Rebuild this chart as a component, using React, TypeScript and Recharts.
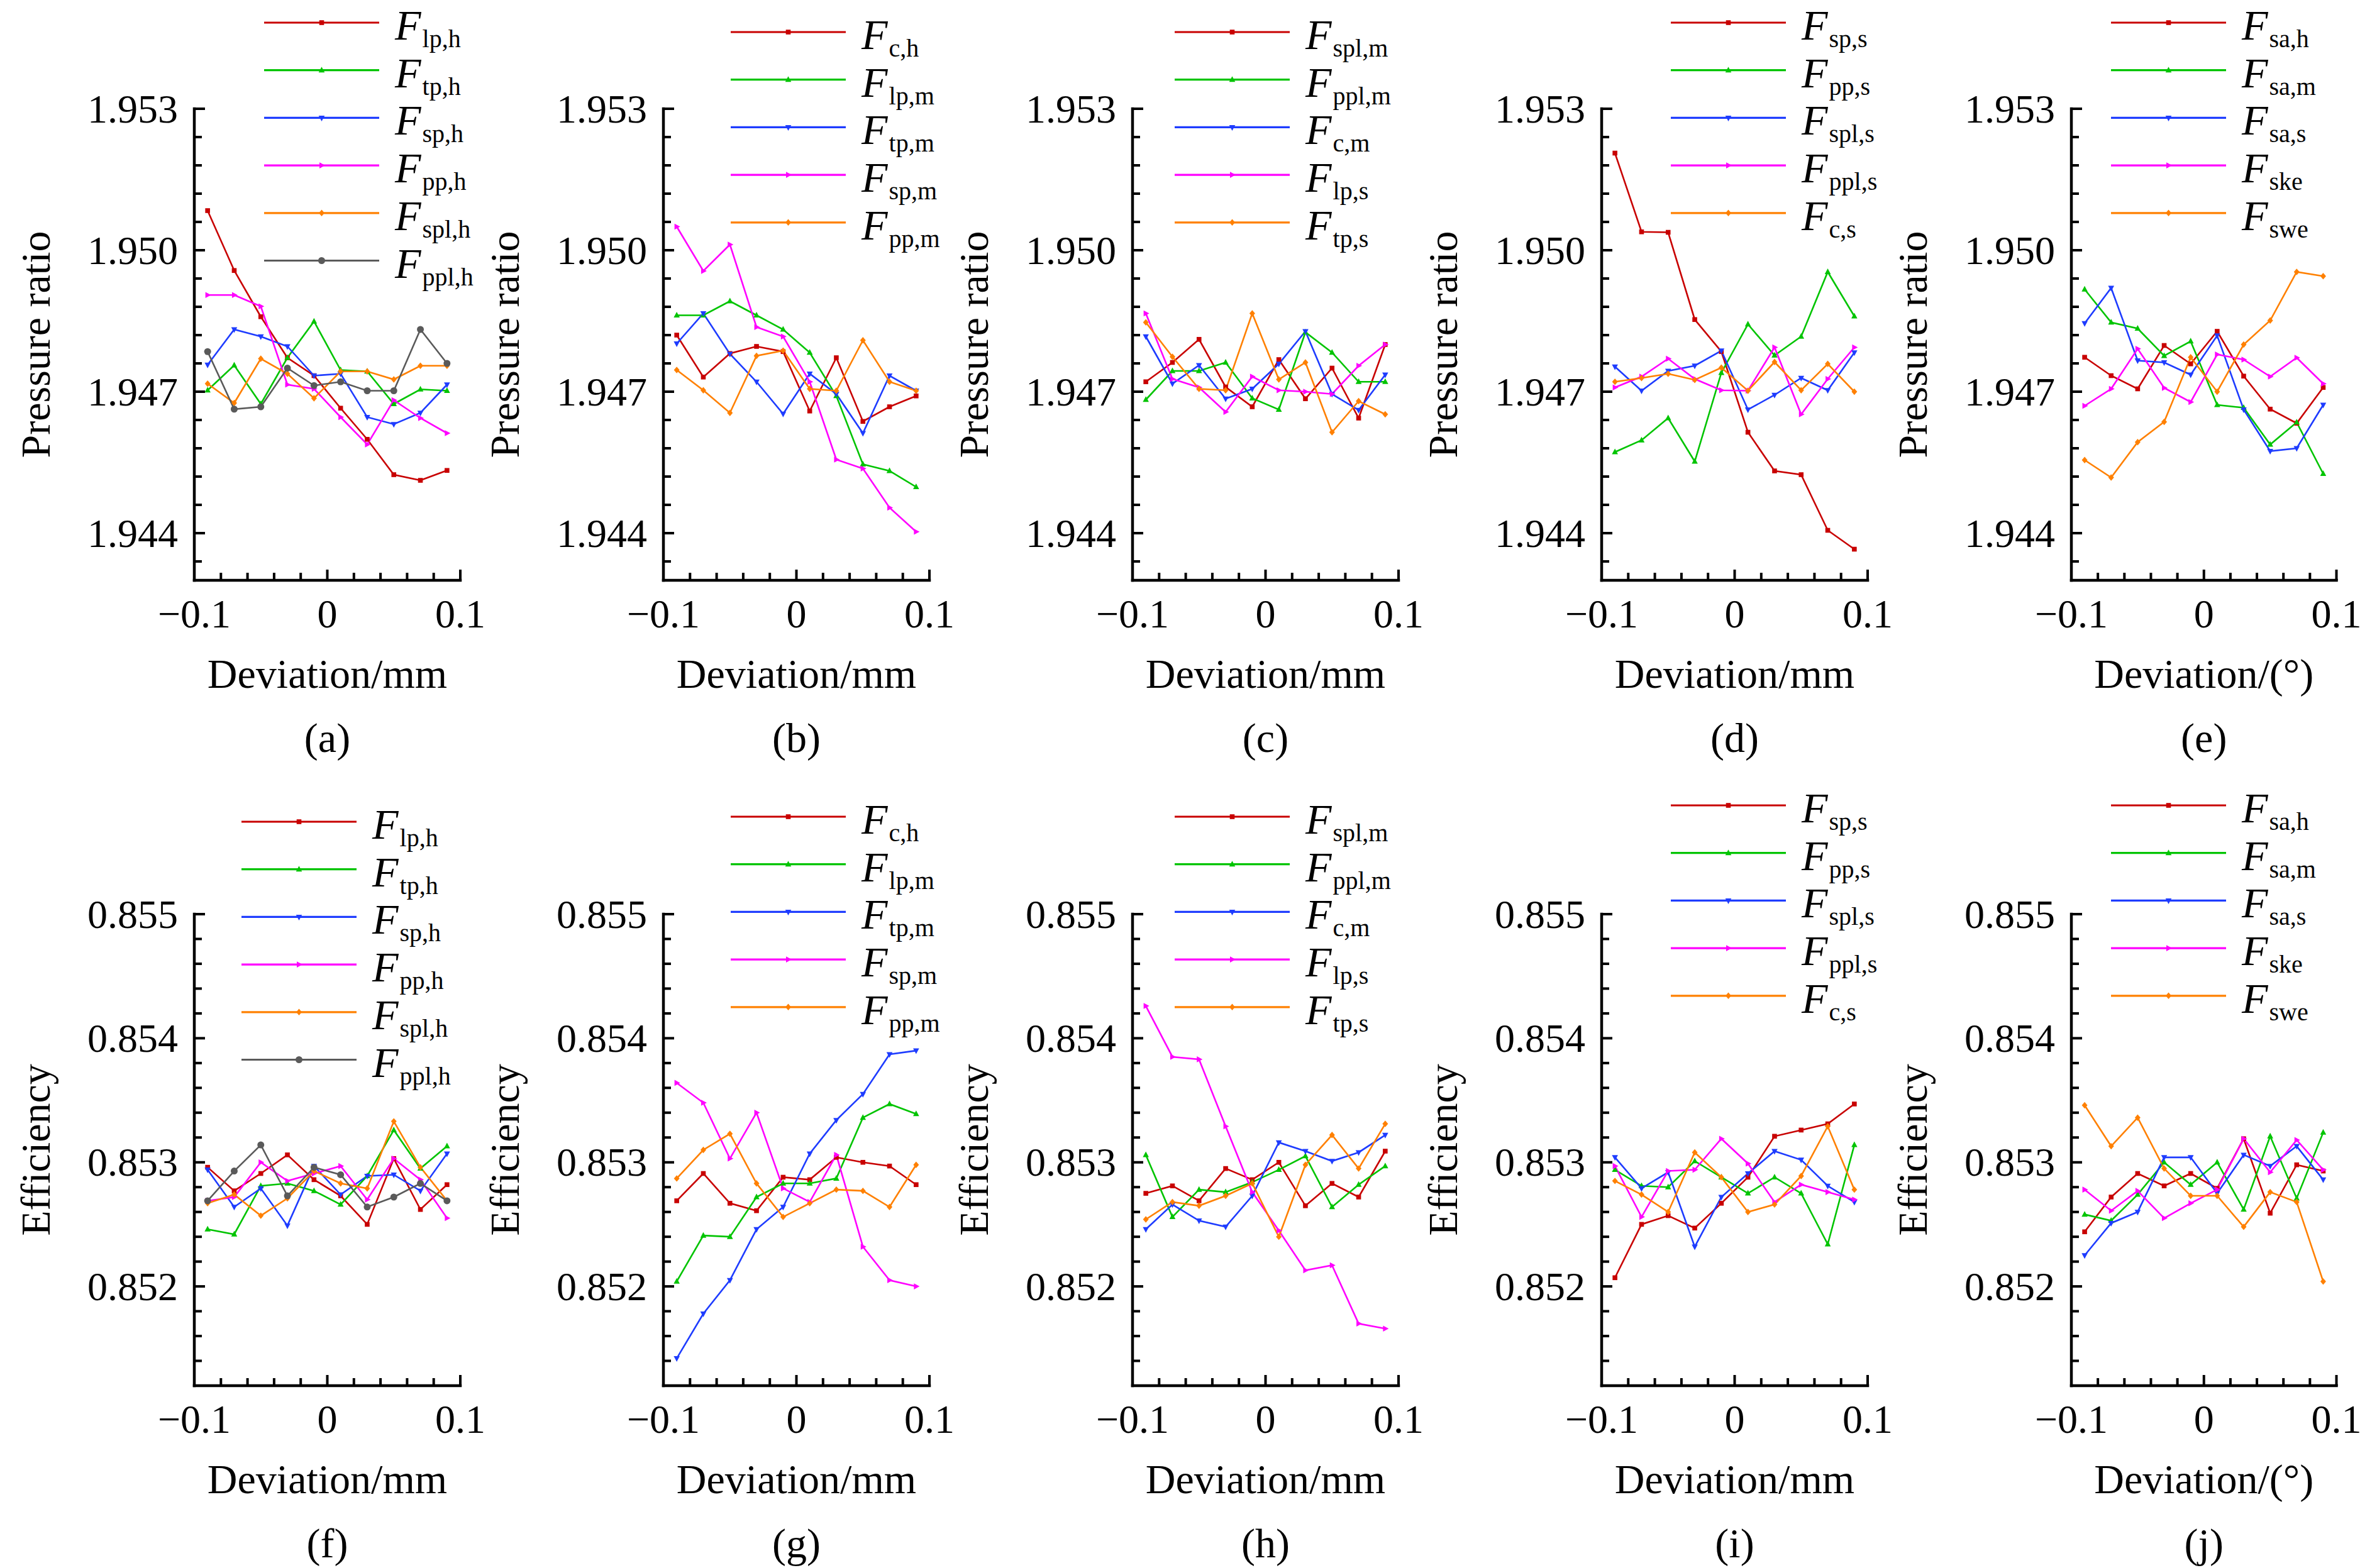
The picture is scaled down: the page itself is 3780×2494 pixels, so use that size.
import React from 'react';
import { LineChart, Line, XAxis, YAxis, Legend } from 'recharts';

const FONT = '"Liberation Serif", "Times New Roman", Times, serif';

// ---------- shared axis values ----------
const DEV = [-0.09, -0.07, -0.05, -0.03, -0.01, 0.01, 0.03, 0.05, 0.07, 0.09];
const X_TICKS = [-0.1, -0.08, -0.06, -0.04, -0.02, 0, 0.02, 0.04, 0.06, 0.08, 0.1];
const X_MAJOR = [-0.1, 0, 0.1];
const X_LABELS = ['\u22120.1', '0', '0.1'];

const PR_DOMAIN = [1.943, 1.953];
const PR_TICKS = [1.9434, 1.944, 1.9446, 1.9452, 1.9458, 1.9464, 1.947, 1.9476, 1.9482, 1.9488, 1.9494, 1.95, 1.9506, 1.9512, 1.9518, 1.9524, 1.953];
const PR_MAJOR = [1.944, 1.947, 1.95, 1.953];

const EFF_DOMAIN = [0.8512, 0.855];
const EFF_TICKS = [0.8514, 0.8516, 0.8518, 0.852, 0.8522, 0.8524, 0.8526, 0.8528, 0.853, 0.8532, 0.8534, 0.8536, 0.8538, 0.854, 0.8542, 0.8544, 0.8546, 0.8548, 0.855];
const EFF_MAJOR = [0.852, 0.853, 0.854, 0.855];

// ---------- pressure ratio series ----------
const A_LP_H = [1.95084, 1.94957, 1.94859, 1.94772, 1.94734, 1.94665, 1.94599, 1.94524, 1.94512, 1.94533];
const A_TP_H = [1.94703, 1.94756, 1.94674, 1.94772, 1.94849, 1.94746, 1.94743, 1.94674, 1.94705, 1.94702];
const A_SP_H = [1.94757, 1.94832, 1.94817, 1.94796, 1.94734, 1.94738, 1.94646, 1.94631, 1.94655, 1.94715];
const A_PP_H = [1.94905, 1.94905, 1.94881, 1.94715, 1.94706, 1.94646, 1.94588, 1.94682, 1.94644, 1.94612];
const A_SPL_H = [1.94717, 1.94676, 1.9477, 1.94738, 1.94686, 1.94743, 1.94743, 1.94726, 1.94755, 1.94755];
const A_PPL_H = [1.94785, 1.94663, 1.94668, 1.9475, 1.94713, 1.94721, 1.94702, 1.94702, 1.94832, 1.9476];

const B_C_H = [1.9482, 1.94731, 1.94781, 1.94796, 1.94785, 1.94659, 1.94772, 1.94637, 1.94668, 1.94691];
const B_LP_M = [1.94862, 1.94862, 1.94892, 1.94862, 1.94832, 1.94783, 1.94691, 1.94546, 1.94532, 1.94498];
const B_TP_M = [1.94802, 1.94866, 1.9478, 1.94721, 1.94653, 1.94738, 1.94695, 1.94612, 1.94734, 1.94702];
const B_SP_M = [1.9505, 1.94956, 1.95012, 1.94837, 1.94817, 1.94721, 1.94556, 1.94537, 1.94454, 1.94403];
const B_PP_M = [1.94746, 1.94703, 1.94655, 1.94776, 1.94787, 1.94706, 1.94702, 1.94809, 1.94721, 1.94702];

const C_SPL_M = [1.94721, 1.94762, 1.94811, 1.9471, 1.94668, 1.94768, 1.94685, 1.9475, 1.94644, 1.948];
const C_PPL_M = [1.94683, 1.94744, 1.94744, 1.94762, 1.94686, 1.94662, 1.94826, 1.94783, 1.94721, 1.94721];
const C_C_M = [1.94817, 1.94717, 1.94756, 1.94685, 1.94706, 1.94759, 1.94828, 1.94695, 1.94661, 1.94736];
const C_LP_S = [1.94866, 1.94727, 1.94709, 1.94657, 1.94732, 1.94703, 1.947, 1.94695, 1.94755, 1.948];
const C_TP_S = [1.94847, 1.94774, 1.94706, 1.94703, 1.94866, 1.94726, 1.94762, 1.94614, 1.9468, 1.94652];

const D_SP_S = [1.95206, 1.95039, 1.95038, 1.94853, 1.94785, 1.94614, 1.94532, 1.94524, 1.94406, 1.94366];
const D_PP_S = [1.94572, 1.94597, 1.94644, 1.94552, 1.9474, 1.94843, 1.94777, 1.94817, 1.94954, 1.9486];
const D_SPL_S = [1.94753, 1.94702, 1.94744, 1.94755, 1.94787, 1.94662, 1.94693, 1.94729, 1.94703, 1.94783];
const D_PPL_S = [1.94709, 1.94732, 1.9477, 1.94727, 1.94703, 1.94702, 1.94794, 1.94652, 1.94727, 1.94794];
const D_C_S = [1.94721, 1.94729, 1.94738, 1.94725, 1.94751, 1.94702, 1.94763, 1.94703, 1.94759, 1.947];

const E_SA_H = [1.94773, 1.94734, 1.94706, 1.94798, 1.94759, 1.94828, 1.94733, 1.94663, 1.94633, 1.94709];
const E_SA_M = [1.94917, 1.94847, 1.94834, 1.94776, 1.94807, 1.94672, 1.94666, 1.94588, 1.94635, 1.94526];
const E_SA_S = [1.94845, 1.9492, 1.94766, 1.94762, 1.94736, 1.94819, 1.94662, 1.94574, 1.9458, 1.94672];
const E_SKE = [1.9467, 1.94706, 1.94791, 1.94708, 1.94678, 1.94779, 1.94768, 1.94732, 1.94772, 1.94717];
const E_SWE = [1.94555, 1.94518, 1.94593, 1.94636, 1.94773, 1.947, 1.948, 1.94851, 1.94954, 1.94945];

// ---------- efficiency series ----------
const F_LP_H = [0.85296, 0.85277, 0.85291, 0.85306, 0.85286, 0.85273, 0.8525, 0.85303, 0.85262, 0.85282];
const F_TP_H = [0.85246, 0.85242, 0.85281, 0.85283, 0.85277, 0.85266, 0.85289, 0.85326, 0.85295, 0.85313];
const F_SP_H = [0.85294, 0.85264, 0.85279, 0.85249, 0.85297, 0.85274, 0.85289, 0.8529, 0.85277, 0.85307];
const F_PP_H = [0.85269, 0.85272, 0.853, 0.85285, 0.85291, 0.85297, 0.8527, 0.85303, 0.85286, 0.85255];
const F_SPL_H = [0.85267, 0.85274, 0.85257, 0.85271, 0.85293, 0.85283, 0.85279, 0.85333, 0.85296, 0.85269];
const F_PPL_H = [0.85269, 0.85293, 0.85314, 0.85273, 0.85296, 0.8529, 0.85264, 0.85272, 0.85283, 0.85269];

const G_C_H = [0.85269, 0.85291, 0.85267, 0.85261, 0.85288, 0.85286, 0.85304, 0.853, 0.85297, 0.85282];
const G_LP_M = [0.85204, 0.85241, 0.8524, 0.85272, 0.85283, 0.85283, 0.85287, 0.85336, 0.85347, 0.85339];
const G_TP_M = [0.85142, 0.85178, 0.85205, 0.85246, 0.85264, 0.85307, 0.85334, 0.85355, 0.85387, 0.8539];
const G_SP_M = [0.85364, 0.85348, 0.85303, 0.8534, 0.85279, 0.85268, 0.85306, 0.85232, 0.85205, 0.852];
const G_PP_M = [0.85287, 0.8531, 0.85323, 0.85283, 0.85256, 0.85267, 0.85278, 0.85277, 0.85264, 0.85298];

const H_SPL_M = [0.85275, 0.85281, 0.85269, 0.85295, 0.85286, 0.853, 0.85265, 0.85283, 0.85272, 0.85309];
const H_PPL_M = [0.85306, 0.85256, 0.85278, 0.85276, 0.85284, 0.85294, 0.85305, 0.85264, 0.85282, 0.85297];
const H_C_M = [0.85246, 0.85266, 0.85253, 0.85248, 0.85273, 0.85316, 0.85309, 0.85301, 0.85308, 0.85322];
const H_LP_S = [0.85426, 0.85385, 0.85383, 0.85329, 0.85276, 0.85245, 0.85213, 0.85217, 0.8517, 0.85166];
const H_TP_S = [0.85254, 0.85268, 0.85265, 0.85273, 0.85283, 0.8524, 0.85298, 0.85322, 0.85295, 0.85331];

const I_SP_S = [0.85207, 0.8525, 0.85257, 0.85247, 0.85267, 0.85288, 0.85321, 0.85326, 0.85331, 0.85347];
const I_PP_S = [0.85294, 0.85281, 0.8528, 0.85301, 0.85288, 0.85275, 0.85288, 0.85275, 0.85234, 0.85314];
const I_SPL_S = [0.85304, 0.85279, 0.85292, 0.85232, 0.85272, 0.85291, 0.85309, 0.85302, 0.85281, 0.85268];
const I_PPL_S = [0.85297, 0.85256, 0.85293, 0.85294, 0.85319, 0.85299, 0.85268, 0.85282, 0.85276, 0.8527];
const I_C_S = [0.85285, 0.85274, 0.8526, 0.85308, 0.85288, 0.8526, 0.85266, 0.85289, 0.85329, 0.85278];

const J_SA_H = [0.85244, 0.85272, 0.85291, 0.85281, 0.85291, 0.85279, 0.85319, 0.85259, 0.85298, 0.85293];
const J_SA_M = [0.85258, 0.85253, 0.85274, 0.853, 0.85282, 0.853, 0.85262, 0.85321, 0.85271, 0.85324];
const J_SA_S = [0.85225, 0.85251, 0.8526, 0.85304, 0.85304, 0.85275, 0.85306, 0.85297, 0.85313, 0.85286];
const J_SKE = [0.85278, 0.85261, 0.85277, 0.85255, 0.85267, 0.85278, 0.85319, 0.85292, 0.85318, 0.85294];
const J_SWE = [0.85346, 0.85313, 0.85336, 0.85295, 0.85273, 0.85273, 0.85248, 0.85276, 0.85268, 0.85204];

// ---------- legend names ----------
const SUBS_1 = ['lp,h', 'tp,h', 'sp,h', 'pp,h', 'spl,h', 'ppl,h'];
const SUBS_2 = ['c,h', 'lp,m', 'tp,m', 'sp,m', 'pp,m'];
const SUBS_3 = ['spl,m', 'ppl,m', 'c,m', 'lp,s', 'tp,s'];
const SUBS_4 = ['sp,s', 'pp,s', 'spl,s', 'ppl,s', 'c,s'];
const SUBS_5 = ['sa,h', 'sa,m', 'sa,s', 'ske', 'swe'];

// ---------- styling / layout ----------
const COLORS = ['#c80000', '#00c400', '#1e3cff', '#ff00ff', '#ff8000', '#5a5a5a'];
const SHAPES = ['square', 'up', 'down', 'right', 'diamond', 'circle'];
const AXIS_X = [308.5, 1054.7, 1801, 2547, 3293.5];
const PLOT_LEFT = 308;
const PLOT_H = 750;
const YW = 60;
const XH = 60;
const ROW_GAP = 75.7;
const LEG_LINE = 183;
const LEG_PAD = 22;

type PanelCfg = {
  letter: string; col: number; row: number; xTitle: string;
  series: number[][]; subs: string[]; legDx: number; legY: number;
};

const PANELS: PanelCfg[] = [
  { letter: '(a)', col: 0, row: 0, xTitle: 'Deviation/mm', series: [A_LP_H, A_TP_H, A_SP_H, A_PP_H, A_SPL_H, A_PPL_H], subs: SUBS_1, legDx: 111.5, legY: 36 },
  { letter: '(b)', col: 1, row: 0, xTitle: 'Deviation/mm', series: [B_C_H, B_LP_M, B_TP_M, B_SP_M, B_PP_M], subs: SUBS_2, legDx: 107, legY: 51 },
  { letter: '(c)', col: 2, row: 0, xTitle: 'Deviation/mm', series: [C_SPL_M, C_PPL_M, C_C_M, C_LP_S, C_TP_S], subs: SUBS_3, legDx: 67, legY: 51 },
  { letter: '(d)', col: 3, row: 0, xTitle: 'Deviation/mm', series: [D_SP_S, D_PP_S, D_SPL_S, D_PPL_S, D_C_S], subs: SUBS_4, legDx: 110, legY: 36 },
  { letter: '(e)', col: 4, row: 0, xTitle: 'Deviation/(\u00b0)', series: [E_SA_H, E_SA_M, E_SA_S, E_SKE, E_SWE], subs: SUBS_5, legDx: 63.5, legY: 36 },
  { letter: '(f)', col: 0, row: 1, xTitle: 'Deviation/mm', series: [F_LP_H, F_TP_H, F_SP_H, F_PP_H, F_SPL_H, F_PPL_H], subs: SUBS_1, legDx: 75.5, legY: 57 },
  { letter: '(g)', col: 1, row: 1, xTitle: 'Deviation/mm', series: [G_C_H, G_LP_M, G_TP_M, G_SP_M, G_PP_M], subs: SUBS_2, legDx: 107, legY: 48.5 },
  { letter: '(h)', col: 2, row: 1, xTitle: 'Deviation/mm', series: [H_SPL_M, H_PPL_M, H_C_M, H_LP_S, H_TP_S], subs: SUBS_3, legDx: 67, legY: 48.5 },
  { letter: '(i)', col: 3, row: 1, xTitle: 'Deviation/mm', series: [I_SP_S, I_PP_S, I_SPL_S, I_PPL_S, I_C_S], subs: SUBS_4, legDx: 110, legY: 30.5 },
  { letter: '(j)', col: 4, row: 1, xTitle: 'Deviation/(\u00b0)', series: [J_SA_H, J_SA_M, J_SA_S, J_SKE, J_SWE], subs: SUBS_5, legDx: 63.5, legY: 30.5 },
];

function Marker({ cx, cy, shape, color }: { cx: number; cy: number; shape: string; color: string }) {
  if (cx == null || cy == null || isNaN(cx) || isNaN(cy)) return null;
  switch (shape) {
    case 'square':
      return <rect x={cx - 3.8} y={cy - 3.8} width={7.6} height={7.6} fill={color} />;
    case 'up':
      return <polygon points={`${cx},${cy - 5.5} ${cx - 4.8},${cy + 3.5} ${cx + 4.8},${cy + 3.5}`} fill={color} />;
    case 'down':
      return <polygon points={`${cx},${cy + 5.5} ${cx - 4.8},${cy - 3.5} ${cx + 4.8},${cy - 3.5}`} fill={color} />;
    case 'right':
      return <polygon points={`${cx + 5.5},${cy} ${cx - 3.5},${cy - 4.8} ${cx - 3.5},${cy + 4.8}`} fill={color} />;
    case 'diamond':
      return <polygon points={`${cx},${cy - 5.2} ${cx + 4.5},${cy} ${cx},${cy + 5.2} ${cx - 4.5},${cy}`} fill={color} />;
    default:
      return <circle cx={cx} cy={cy} r={5.5} fill={color} />;
  }
}

function near(list: number[], v: number) {
  return list.findIndex((m) => Math.abs(m - v) < 1e-7);
}

function makeYTick(major: number[], top: number, title: string) {
  return (props: any) => {
    const { x, y, payload } = props;
    const v = payload.value;
    const isMajor = near(major, v) >= 0;
    const tx = x - 230;
    const ty = y + PLOT_H / 2;
    return (
      <g>
        <line x1={x} x2={x + (isMajor ? 17 : 12)} y1={y} y2={y} stroke="#000" strokeWidth={4} />
        {isMajor && (
          <text x={x - 26} y={y} dy="0.34em" textAnchor="end" fontSize={64} fontFamily={FONT} fill="#000">
            {v.toFixed(3)}
          </text>
        )}
        {Math.abs(v - top) < 1e-7 && (
          <text x={tx} y={ty} transform={`rotate(-90, ${tx}, ${ty})`} textAnchor="middle" fontSize={66} fontFamily={FONT} fill="#000">
            {title}
          </text>
        )}
      </g>
    );
  };
}

function makeXTick(xTitle: string, letter: string) {
  return (props: any) => {
    const { x, y, payload } = props;
    const v = payload.value;
    const mi = near(X_MAJOR, v);
    return (
      <g>
        <line x1={x} x2={x} y1={y} y2={y - (mi >= 0 ? 17 : 12)} stroke="#000" strokeWidth={4} />
        {mi >= 0 && (
          <text x={x} y={y + 75} textAnchor="middle" fontSize={64} fontFamily={FONT} fill="#000">
            {X_LABELS[mi]}
          </text>
        )}
        {mi === 1 && (
          <g>
            <text x={x} y={y + 171} textAnchor="middle" fontSize={66} fontFamily={FONT} fill="#000">{xTitle}</text>
            <text x={x} y={y + 273} textAnchor="middle" fontSize={66} fontFamily={FONT} fill="#000">{letter}</text>
          </g>
        )}
      </g>
    );
  };
}

function LegendBox({ subs }: { subs: string[] }) {
  const w = LEG_LINE + 200;
  const h = LEG_PAD + (subs.length - 1) * ROW_GAP + 50;
  return (
    <svg width={w} height={h} style={{ overflow: 'visible', display: 'block' }}>
      {subs.map((s, i) => {
        const ly = LEG_PAD + i * ROW_GAP;
        return (
          <g key={s}>
            <line x1={0} x2={LEG_LINE} y1={ly} y2={ly} stroke={COLORS[i]} strokeWidth={3.2} />
            <Marker cx={LEG_LINE / 2} cy={ly} shape={SHAPES[i]} color={COLORS[i]} />
            <text x={LEG_LINE + 25} y={ly + 27} fontFamily={FONT} fill="#000">
              <tspan fontStyle="italic" fontSize={68}>F</tspan>
              <tspan fontSize={40} dx={2} dy={12}>{s}</tspan>
            </text>
          </g>
        );
      })}
    </svg>
  );
}

function Panel({ cfg }: { cfg: PanelCfg }) {
  const isTop = cfg.row === 0;
  const chartLeft = AXIS_X[cfg.col] - PLOT_LEFT;
  const chartTop = isTop ? 0 : 1250;
  const W = cfg.col === 4 ? 794 : 800;
  const H = isTop ? 1250 : 1244;
  const plotTop = isTop ? 173 : 204;
  const plotW = cfg.col === 4 ? 421.5 : 423;
  const rows = DEV.map((x, i) => {
    const r: any = { x };
    cfg.series.forEach((s, k) => {
      r['s' + k] = s[i];
    });
    return r;
  });
  const domain = isTop ? PR_DOMAIN : EFF_DOMAIN;
  const ticks = isTop ? PR_TICKS : EFF_TICKS;
  const major = isTop ? PR_MAJOR : EFF_MAJOR;
  const yTitle = isTop ? 'Pressure ratio' : 'Efficiency';
  const axisLine = { stroke: '#000', strokeWidth: 4.5, strokeLinecap: 'square' as const };
  return (
    <div style={{ position: 'absolute', left: chartLeft, top: chartTop, width: W, height: H }}>
      <LineChart
        width={W}
        height={H}
        data={rows}
        style={{ overflow: 'visible' }}
        margin={{ top: plotTop, left: PLOT_LEFT - YW, right: W - PLOT_LEFT - plotW, bottom: H - plotTop - PLOT_H - XH }}
      >
        <XAxis
          dataKey="x"
          type="number"
          domain={[-0.1, 0.1]}
          ticks={X_TICKS}
          interval={0}
          allowDataOverflow
          tickSize={0}
          tickMargin={0}
          height={XH}
          axisLine={axisLine}
          tickLine={false}
          tick={makeXTick(cfg.xTitle, cfg.letter)}
        />
        <YAxis
          type="number"
          domain={domain}
          ticks={ticks}
          interval={0}
          allowDataOverflow
          tickSize={0}
          tickMargin={0}
          width={YW}
          axisLine={axisLine}
          tickLine={false}
          tick={makeYTick(major, domain[1], yTitle)}
        />
        <Legend
          layout="vertical"
          align="center"
          verticalAlign="middle"
          wrapperStyle={{ left: PLOT_LEFT + cfg.legDx, top: cfg.legY - LEG_PAD, width: LEG_LINE + 200 }}
          content={() => <LegendBox subs={cfg.subs} />}
        />
        {cfg.series.map((_, k) => (
          <Line
            key={k}
            type="linear"
            dataKey={'s' + k}
            stroke={COLORS[k]}
            strokeWidth={2.6}
            isAnimationActive={false}
            activeDot={false}
            dot={(p: any) => <Marker key={`m${k}-${p.index}`} cx={p.cx} cy={p.cy} shape={SHAPES[k]} color={COLORS[k]} />}
          />
        ))}
      </LineChart>
    </div>
  );
}

export default function App() {
  return (
    <div style={{ position: 'absolute', left: 0, top: 0, width: 3780, height: 2494, background: '#fff', fontFamily: FONT, overflow: 'hidden' }}>
      {PANELS.map((p) => (
        <Panel key={p.letter} cfg={p} />
      ))}
    </div>
  );
}
